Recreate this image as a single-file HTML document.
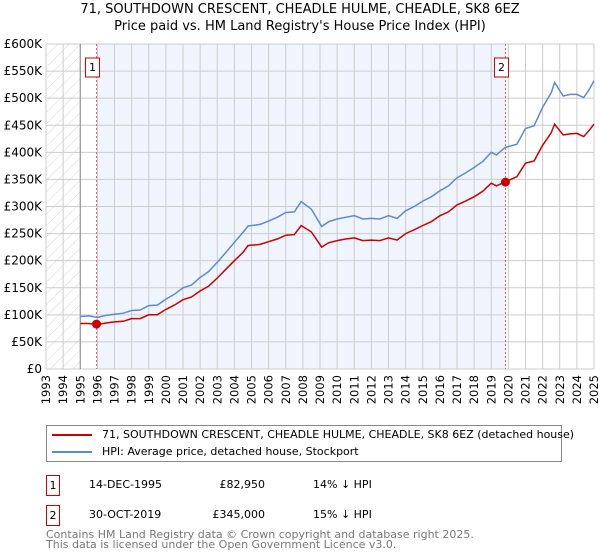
<!DOCTYPE html>
<html><head><meta charset="utf-8"><style>
body{margin:0;width:600px;height:560px;background:#fff;font-family:"Liberation Sans","DejaVu Sans",sans-serif;overflow:hidden;position:relative}
.t{position:absolute;font-size:11.5px;color:#000}
</style></head><body>
<div style="position:absolute;top:1px;width:600px;text-align:center;font-size:13px;line-height:17px;font-family:'DejaVu Sans',sans-serif">71, SOUTHDOWN CRESCENT, CHEADLE HULME, CHEADLE, SK8 6EZ<br>Price paid vs. HM Land Registry's House Price Index (HPI)</div>
<svg id="chart" width="600" height="420" style="position:absolute;left:0;top:0" font-family="DejaVu Sans, sans-serif"></svg>
<div style="position:absolute;left:46px;top:425px;width:514px;height:35px;border:1px solid #888;font-family:'DejaVu Sans',sans-serif;font-size:11px">
 <div style="position:absolute;left:5px;top:2px;white-space:nowrap"><span style="display:inline-block;width:40px;height:2px;background:#cc0000;vertical-align:middle;margin-right:10px"></span>71, SOUTHDOWN CRESCENT, CHEADLE HULME, CHEADLE, SK8 6EZ (detached house)</div>
 <div style="position:absolute;left:5px;top:19px;white-space:nowrap"><span style="display:inline-block;width:40px;height:2px;background:#5b8bd0;vertical-align:middle;margin-right:10px"></span>HPI: Average price, detached house, Stockport</div>
</div>
<div style="font-family:'DejaVu Sans',sans-serif;font-size:11px">
 <div style="position:absolute;left:46px;top:475px;width:12px;height:19px;border:1px solid #cc0000;text-align:center;line-height:19px">1</div>
 <div class="t" style="left:89px;top:478px;font-size:11px">14-DEC-1995</div>
 <div class="t" style="left:200px;top:478px;width:65px;text-align:right;font-size:11px">£82,950</div>
 <div class="t" style="left:313px;top:478px;font-size:11px">14% ↓ HPI</div>
 <div style="position:absolute;left:46px;top:505px;width:12px;height:19px;border:1px solid #cc0000;text-align:center;line-height:19px">2</div>
 <div class="t" style="left:89px;top:508px;font-size:11px">30-OCT-2019</div>
 <div class="t" style="left:200px;top:508px;width:65px;text-align:right;font-size:11px">£345,000</div>
 <div class="t" style="left:313px;top:508px;font-size:11px">15% ↓ HPI</div>
</div>
<div style="position:absolute;left:46px;top:530px;font-size:11px;color:#777;line-height:10px;font-family:'DejaVu Sans',sans-serif">Contains HM Land Registry data © Crown copyright and database right 2025.<br>This data is licensed under the Open Government Licence v3.0.</div>
<script>
const hpiYears=[1995,1995.5,1996,1996.5,1997,1997.5,1998,1998.5,1999,1999.5,2000,2000.5,2001,2001.5,2002,2002.5,2003,2003.5,2004,2004.5,2004.8,2005.5,2006,2006.5,2007,2007.5,2007.9,2008.5,2009.1,2009.5,2010,2010.5,2011,2011.5,2012,2012.5,2013,2013.5,2014,2014.5,2015,2015.5,2016,2016.5,2017,2017.5,2018,2018.5,2019,2019.3,2019.8,2020.5,2021,2021.5,2022,2022.5,2022.7,2023.2,2023.6,2024,2024.4,2024.7,2025];
const hpiValues=[97,98,95,99,101,103,108,109,117,118,129,138,150,155,169,180,197,215,234,252,264,267,273,280,289,290,309,295,263,272,277,280,283,277,278,277,283,278,292,300,310,318,329,338,353,362,372,383,400,395,409,415,444,449,483,510,529,504,507,507,501,515,532];
const redValues=[84,84,82,85,87,88,93,93,100,100,110,118,128,133,144,153,168,184,200,215,228,230,235,240,247,248,265,253,225,233,237,240,242,237,238,237,242,238,250,257,265,272,283,290,303,310,318,328,343,338,345,355,380,384,413,436,452,432,434,435,429,440,452];
const yTicks=[0,50,100,150,200,250,300,350,400,450,500,550,600];
const yTickLabels=["£0","£50K","£100K","£150K","£200K","£250K","£300K","£350K","£400K","£450K","£500K","£550K","£600K"];
const years=[1993,1994,1995,1996,1997,1998,1999,2000,2001,2002,2003,2004,2005,2006,2007,2008,2009,2010,2011,2012,2013,2014,2015,2016,2017,2018,2019,2020,2021,2022,2023,2024,2025];
const sales=[{n:"1",year:1995.95,value:82.95},{n:"2",year:2019.83,value:345}];
const NS="http://www.w3.org/2000/svg",svg=document.getElementById('chart');
const L=46,R=594,T=44,B=369;
const x=y=>L+(y-1993)/(2025-1993)*(R-L);
const yv=v=>B-v/600*(B-T);
function mk(tag,a){const e=document.createElementNS(NS,tag);for(const k in a)e.setAttribute(k,a[k]);svg.appendChild(e);return e;}
const defs=mk('defs',{});
defs.innerHTML='<pattern id="hatch" width="8" height="8" patternUnits="userSpaceOnUse" patternTransform="rotate(45)"><line x1="0" y1="0" x2="0" y2="8" stroke="#ccc" stroke-width="0.8"/></pattern>';
let e=mk('rect',{x:L,y:T,width:x(1995)-L,height:B-T,fill:'url(#hatch)'});


e=mk('rect',{x:x(sales[0].year),y:T,width:x(sales[1].year)-x(sales[0].year),height:B-T,fill:'#f0f4fc'});


years.forEach(yr=>{const g=mk('line',{x1:x(yr),x2:x(yr),y1:T,y2:B,stroke:'#ccc','stroke-width':1});


const t=mk('text',{x:0,y:0,'font-size':11.5,'text-anchor':'end',transform:`translate(${x(yr)+4},${B+6}) rotate(-90)`});t.textContent=yr;

});
yTicks.forEach((v,i)=>{const g=mk('line',{x1:L,x2:R,y1:yv(v),y2:yv(v),stroke:'#ccc','stroke-width':1});


const t=mk('text',{x:L-4,y:yv(v)+4,'font-size':12,'text-anchor':'end'});t.textContent=yTickLabels[i];

});
e=mk('line',{x1:x(1995),x2:x(1995),y1:T,y2:B,stroke:'#888','stroke-width':1});


sales.forEach(s=>{const l=mk('line',{x1:x(s.year),x2:x(s.year),y1:T,y2:B,stroke:'#e06060','stroke-width':1,'stroke-dasharray':'2,2'});


const bx=mk('rect',{x:x(s.year)-11,y:58,width:14,height:19,fill:'#fff',stroke:'#cc0000'});


const t=mk('text',{x:x(s.year)-4,y:71,'font-size':11,'text-anchor':'middle'});t.textContent=s.n;

});
const pts=vals=>hpiYears.map((yr,i)=>x(yr).toFixed(1)+','+yv(vals[i]).toFixed(1)).join(' ');
e=mk('polyline',{points:pts(hpiValues),fill:'none',stroke:'#5b8bd0','stroke-width':1.5});


e=mk('polyline',{points:pts(redValues),fill:'none',stroke:'#cc0000','stroke-width':1.5});


sales.forEach(s=>{const c=mk('circle',{cx:x(s.year),cy:yv(s.value),r:4.5,fill:'#cc0000'});

});
</script>
</body></html>
